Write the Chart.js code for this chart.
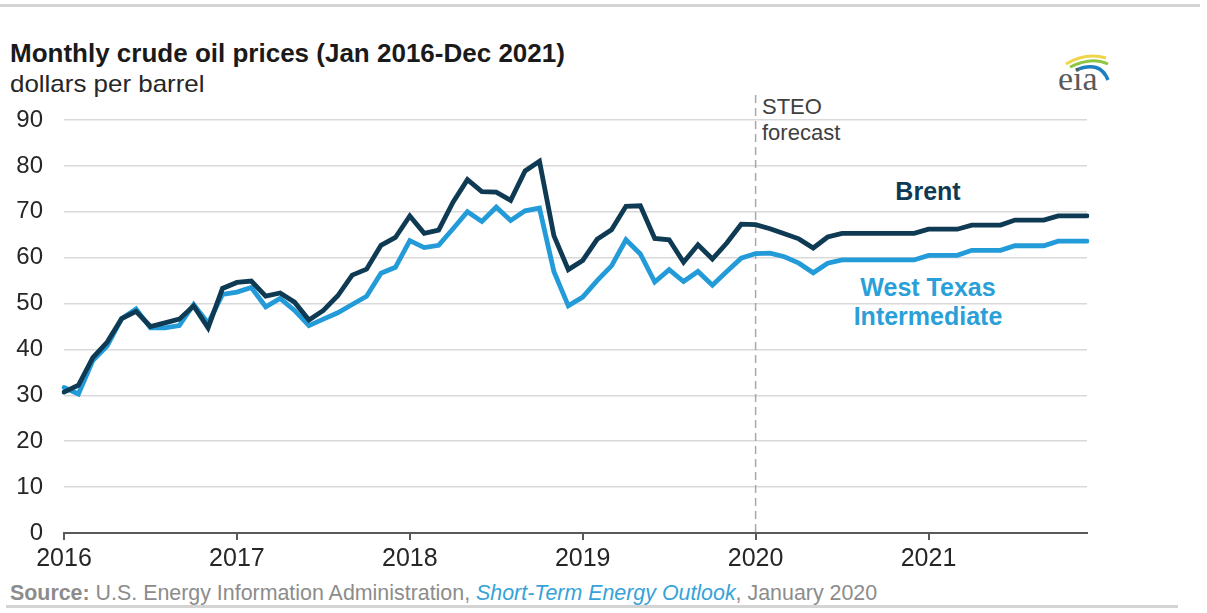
<!DOCTYPE html>
<html>
<head>
<meta charset="utf-8">
<script src="https://cdn.jsdelivr.net/npm/chart.js@4.4.1/dist/chart.umd.min.js"></script>
<style>
  html, body { margin: 0; padding: 0; background: #fff; }
  body { width: 1207px; height: 613px; position: relative; overflow: hidden;
         font-family: "Liberation Sans", Arial, sans-serif; }
  #chart { position: absolute; left: 0; top: 0; }
  .txt { position: absolute; line-height: 1; white-space: nowrap; }
  .rule { position: absolute; height: 3px; background: #d4d4d4; }
</style>
</head>
<body>
<div class="rule" style="left:0; top:4px; width:1200px;"></div>
<div class="rule" style="left:6px; top:605px; width:1172px;"></div>

<div class="txt" style="left:10px; top:41px; font-size:25px; font-weight:bold; color:#1a1a1a; transform:scaleX(1.04); transform-origin:left;">Monthly crude oil prices (Jan 2016-Dec 2021)</div>
<div class="txt" style="left:10px; top:72px; font-size:24px; color:#262626; transform:scaleX(1.08); transform-origin:left;">dollars per barrel</div>

<div class="txt" style="left:762px; top:96px; font-size:22px; color:#404040;">STEO</div>
<div class="txt" style="left:762px; top:122px; font-size:22px; color:#404040;">forecast</div>

<div class="txt" style="left:928px; top:179px; font-size:25px; font-weight:bold; color:#0f3a53; transform:translateX(-50%);">Brent</div>
<div class="txt" style="left:928px; top:275px; font-size:25px; font-weight:bold; color:#2a9fd8; transform:translateX(-50%);">West Texas</div>
<div class="txt" style="left:928px; top:304px; font-size:25px; font-weight:bold; color:#2a9fd8; transform:translateX(-50%);">Intermediate</div>

<div class="txt" style="left:10px; top:583px; font-size:21.4px; color:#8c8c8c;"><b>Source:</b> U.S. Energy Information Administration, <i style="color:#35a3d8;">Short-Term Energy Outlook</i>, January 2020</div>

<svg style="position:absolute; left:1050px; top:48px;" width="70" height="48" viewBox="0 0 70 48">
  <path d="M16 16 Q36 4 56 10" stroke="#f0d54a" stroke-width="3" fill="none"/>
  <path d="M20 19 Q42 8 58 16" stroke="#8dc63f" stroke-width="3" fill="none"/>
  <path d="M26 22 Q50 12 58 32" stroke="#1b7fc1" stroke-width="3.5" fill="none"/>
  <text x="8" y="42" font-family="Liberation Serif, DejaVu Serif, serif" font-size="34" fill="#5a5a5a">eia</text>
</svg>

<canvas id="chart" width="1207" height="613"></canvas>

<script>
// Monthly data, Jan 2016 - Dec 2021 (2020-2021 is STEO forecast)
const years = ['2016', '2017', '2018', '2019', '2020', '2021'];
const forecastStart = '2020-01';

const brent = [
    30.7, 32.2, 38.2, 41.6, 46.7, 48.3, 45.0, 45.8, 46.6, 49.5, 44.7, 53.3,
    54.6, 54.9, 51.6, 52.3, 50.3, 46.4, 48.5, 51.7, 56.2, 57.5, 62.7, 64.4,
    69.1, 65.3, 66.0, 72.1, 77.0, 74.4, 74.3, 72.5, 78.9, 81.0, 64.8, 57.4,
    59.4, 64.0, 66.1, 71.2, 71.3, 64.2, 63.9, 59.0, 62.8, 59.7, 63.2, 67.3,
    67.2, 66.3, 65.2, 64.1, 62.1, 64.5, 65.3, 65.3, 65.3, 65.3, 65.3, 65.3,
    66.2, 66.2, 66.2, 67.1, 67.1, 67.1, 68.2, 68.2, 68.2, 69.1, 69.1, 69.1
];

const wti = [
    31.7, 30.3, 37.6, 40.8, 46.7, 48.8, 44.7, 44.7, 45.2, 49.8, 45.7, 52.0,
    52.5, 53.5, 49.3, 51.1, 48.5, 45.2, 46.6, 48.0, 49.8, 51.6, 56.6, 57.9,
    63.7, 62.2, 62.7, 66.3, 70.0, 67.9, 71.0, 68.1, 70.2, 70.8, 57.0, 49.5,
    51.4, 55.0, 58.2, 63.9, 60.8, 54.7, 57.4, 54.8, 57.0, 54.0, 57.0, 59.9,
    60.9, 61.0, 60.2, 58.8, 56.7, 58.8, 59.5, 59.5, 59.5, 59.5, 59.5, 59.5,
    60.5, 60.5, 60.5, 61.6, 61.6, 61.6, 62.6, 62.6, 62.6, 63.6, 63.6, 63.6
];

const months = [];
years.forEach(y => {
    for (let m = 1; m <= 12; m++) months.push(y + '-' + String(m).padStart(2, '0'));
});

// dashed vertical line marking the start of the forecast
const forecastLine = {
    id: 'forecastLine',
    beforeDatasetsDraw(chart) {
        const x = chart.scales.x.getPixelForValue(months.indexOf(forecastStart));
        const ctx = chart.ctx;
        ctx.save();
        ctx.strokeStyle = '#a8a8a8';
        ctx.lineWidth = 1.5;
        ctx.setLineDash([8, 5]);
        ctx.beginPath();
        ctx.moveTo(x, 95);
        ctx.lineTo(x, chart.chartArea.bottom);
        ctx.stroke();
        ctx.restore();
    }
};

const tickFont = { family: "'Liberation Sans', Arial, sans-serif", size: 24 };

new Chart(document.getElementById('chart'), {
    type: 'line',
    data: {
        labels: months,
        datasets: [
            { label: 'Brent', data: brent, borderColor: '#0f3a53', borderWidth: 4.8 },
            { label: 'West Texas Intermediate', data: wti, borderColor: '#229bd8', borderWidth: 4.8 }
        ]
    },
    options: {
        responsive: false,
        animation: false,
        devicePixelRatio: 1,
        layout: { padding: { top: 120, right: 120, left: 0, bottom: 0 } },
        elements: {
            point: { radius: 0 },
            line: { tension: 0, borderCapStyle: 'round', borderJoinStyle: 'miter' }
        },
        plugins: {
            legend: { display: false },
            tooltip: { enabled: false },
            title: { display: false }
        },
        scales: {
            x: {
                offset: false,
                afterFit(scale) { scale.height = 80; },
                grid: { drawOnChartArea: false, drawTicks: true, tickLength: 7, color: '#595959', lineWidth: 2 },
                border: { color: '#595959', width: 2 },
                ticks: {
                    autoSkip: false,
                    maxRotation: 0,
                    padding: 4,
                    color: '#262626',
                    font: { family: tickFont.family, size: 25 },
                    callback(val, idx) {
                        return idx % 12 === 0 ? months[idx].slice(0, 4) : null;
                    }
                }
            },
            y: {
                min: 0,
                max: 90,
                afterFit(scale) { scale.width = 64; },
                grid: { color: '#d9d9d9', lineWidth: 1.5, drawTicks: false },
                border: { display: false },
                ticks: { stepSize: 10, padding: 21, color: '#262626', font: tickFont }
            }
        }
    },
    plugins: [forecastLine]
});
</script>
</body>
</html>
